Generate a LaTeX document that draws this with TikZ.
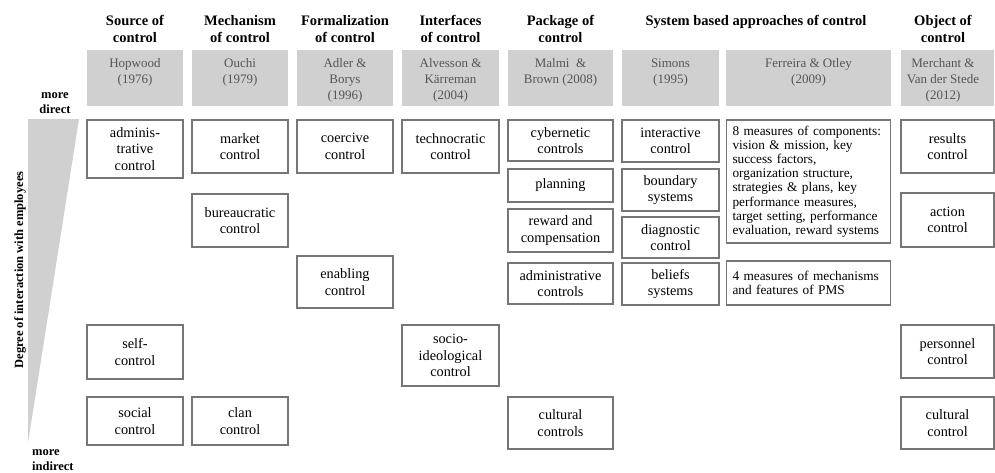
\documentclass[tikz,border=0pt]{standalone}
\usepackage{fontspec}
\setmainfont{Liberation Serif}
\usetikzlibrary{positioning}

\definecolor{boxgray}{RGB}{208,208,208}
\definecolor{linegray}{RGB}{118,118,118}
\definecolor{refink}{RGB}{85,85,85}

\tikzset{
  headtext/.style={font=\fontsize{14.5}{17}\selectfont\bfseries, align=center, anchor=north, inner sep=0pt},
  refbox/.style={fill=boxgray, minimum height=56, anchor=north, inner sep=0pt},
  reftext/.style={font=\fontsize{13}{16}\selectfont, text=refink, align=center, anchor=north, inner sep=0pt},
  ctrlbox/.style={draw=linegray, line width=1.2pt, fill=white, align=center, inner sep=1pt,
    font=\fontsize{14.3}{16.5}\selectfont},
  listbox/.style={ctrlbox, align=left, text width=152, inner xsep=6, inner ysep=4,
    font=\fontsize{13.3}{14.2}\selectfont},
  sidetext/.style={font=\fontsize{12.5}{15}\selectfont\bfseries, inner sep=0pt},
}

\begin{document}
\begin{tikzpicture}[x=1pt, y=-1pt]
    \useasboundingbox (0,0) rectangle (995,472);

    % Keil links: Grad der Interaktion
    \fill[boxgray] (28,119) -- (79,119) -- (28,443) -- cycle;
    \node[sidetext, rotate=90] (degree) at (20,270) {Degree of interaction with employees};
    \node[sidetext, align=center, anchor=base] (direct) at (55,113) {more\\direct};
    \node[sidetext, align=left, anchor=base west] (indirect) at (32,470) {more\\indirect};

    % Spaltenköpfe
    \node[headtext] (h1) at (135,15) {Source of\\control};
    \node[headtext] (h2) at (240,15) {Mechanism\\of control};
    \node[headtext] (h3) at (345,15) {Formalization\\of control};
    \node[headtext] (h4) at (450.5,15) {Interfaces\\of control};
    \node[headtext] (h5) at (560.5,15) {Package of\\control};
    \node[headtext] (h6) at (756,15) {System based approaches of control};
    \node[headtext] (h8) at (943,15) {Object of\\control};

    % Graue Kästen mit Autoren
    \node[refbox, minimum width=96] (r1) at (135,50) {};
    \node[refbox, minimum width=96] (r2) at (240,50) {};
    \node[refbox, minimum width=96] (r3) at (345,50) {};
    \node[refbox, minimum width=97] (r4) at (450.5,50) {};
    \node[refbox, minimum width=105] (r5) at (560.5,50) {};
    \node[refbox, minimum width=97] (r6) at (670.5,50) {};
    \node[refbox, minimum width=165] (r7) at (808.5,50) {};
    \node[refbox, minimum width=93] (r8) at (947.5,50) {};

    \node[reftext] (r1t) at (135,58.5) {Hopwood\\(1976)};
    \node[reftext] (r2t) at (240,58.5) {Ouchi\\(1979)};
    \node[reftext] (r3t) at (345,58.5) {Adler \&\\Borys\\(1996)};
    \node[reftext] (r4t) at (450.5,58.5) {Alvesson \&\\Kärreman\\(2004)};
    \node[reftext] (r5t) at (560.5,58.5) {Malmi \ \&\\Brown (2008)};
    \node[reftext] (r6t) at (670.5,58.5) {Simons\\(1995)};
    \node[reftext] (r7t) at (808.5,58.5) {Ferreira \& Otley\\(2009)};
    \node[reftext] (r8t) at (943,58.5) {Merchant \&\\Van der Stede\\(2012)};

    % Hopwood
    \node[ctrlbox, minimum width=96, minimum height=58] (adm) at (135,149) {adminis-\\trative\\control};
    \node[ctrlbox, minimum width=96, minimum height=54] (self) at (135,352) {self-\\control};
    \node[ctrlbox, minimum width=96, minimum height=48] (social) at (135,421) {social\\control};

    % Ouchi
    \node[ctrlbox, minimum width=96, minimum height=53] (market) at (240,146.5) {market\\control};
    \node[ctrlbox, minimum width=96, minimum height=53] (bureau) at (240,220.5) {bureaucratic\\control};
    \node[ctrlbox, minimum width=96, minimum height=48] (clan) at (240,421) {clan\\control};

    % Adler & Borys
    \node[ctrlbox, minimum width=96, minimum height=53] (coercive) at (345,146.5) {coercive\\control};
    \node[ctrlbox, minimum width=96, minimum height=52] (enabling) at (345,282) {enabling\\control};

    % Alvesson & Kärreman
    \node[ctrlbox, minimum width=97, minimum height=53] (techno) at (450.5,146.5) {technocratic\\control};
    \node[ctrlbox, minimum width=97, minimum height=61] (socio) at (450.5,355.5) {socio-\\ideological\\control};

    % Malmi & Brown
    \node[ctrlbox, minimum width=105, minimum height=41] (cyber) at (560.5,140.5) {cybernetic\\controls};
    \node[ctrlbox, minimum width=105, minimum height=33] (plan) at (560.5,185.5) {planning};
    \node[ctrlbox, minimum width=105, minimum height=43] (reward) at (560.5,230.5) {reward and\\compensation};
    \node[ctrlbox, minimum width=105, minimum height=41] (admin) at (560.5,283.5) {administrative\\controls};
    \node[ctrlbox, minimum width=105, minimum height=52] (cultural) at (560.5,423) {cultural\\controls};

    % Simons
    \node[ctrlbox, minimum width=97, minimum height=42] (inter) at (670.5,141) {interactive\\control};
    \node[ctrlbox, minimum width=97, minimum height=42] (boundary) at (670.5,190) {boundary\\systems};
    \node[ctrlbox, minimum width=97, minimum height=41] (diag) at (670.5,237.5) {diagnostic\\control};
    \node[ctrlbox, minimum width=97, minimum height=42] (beliefs) at (670.5,284) {beliefs\\systems};

    % Ferreira & Otley
    \node[listbox, minimum height=123] (ferr8) at (808.5,181.5)
      {8 measures of components:\\vision \& mission, key\\success factors,\\organization structure,\\strategies \& plans, key\\performance measures,\\target setting, performance\\evaluation, reward systems};
    \node[listbox, minimum height=44] (ferr4) at (808.5,283)
      {4 measures of mechanisms\\and features of PMS};

    % Merchant & Van der Stede
    \node[ctrlbox, minimum width=93, minimum height=53] (results) at (947.5,146.5) {results\\control};
    \node[ctrlbox, minimum width=93, minimum height=54] (action) at (947.5,220) {action\\control};
    \node[ctrlbox, minimum width=93, minimum height=53] (personnel) at (947.5,351.5) {personnel\\control};
    \node[ctrlbox, minimum width=93, minimum height=52] (cultctrl) at (947.5,423) {cultural\\control};
\end{tikzpicture}
\end{document}
